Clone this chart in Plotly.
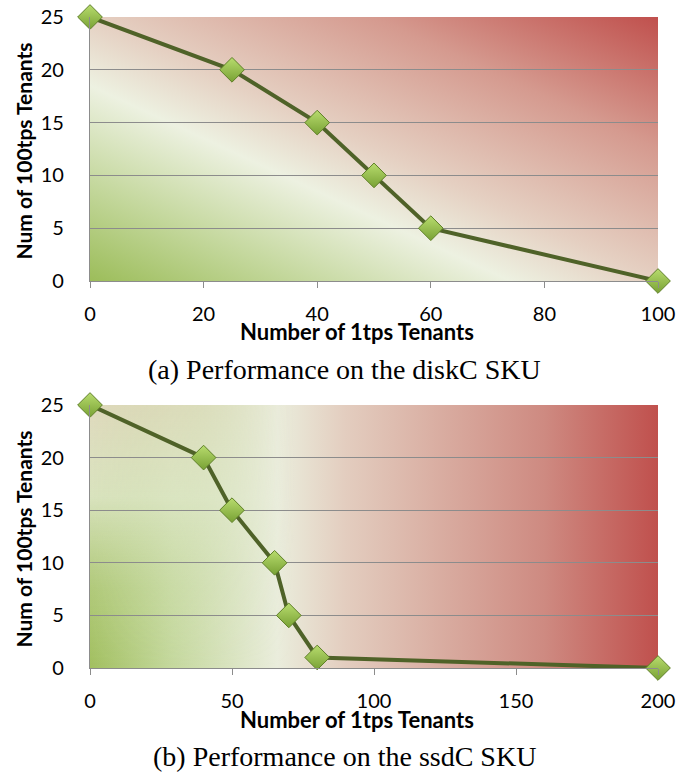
import base64
import plotly.graph_objects as go

# ---- data ----
disk_x = [0, 25, 40, 50, 60, 100]
disk_y = [25, 20, 15, 10, 5, 0]
ssd_x = [0, 40, 50, 65, 70, 80, 200]
ssd_y = [25, 20, 15, 10, 5, 1, 0]
disk_xticks = [0, 20, 40, 60, 80, 100]
ssd_xticks = [0, 50, 100, 150, 200]
yticks = [0, 5, 10, 15, 20, 25]
x_title = "Number of 1tps Tenants"
y_title = "Num of 100tps Tenants"
cap_a = "(a) Performance on the diskC SKU"
cap_b = "(b) Performance on the ssdC SKU"


def stops_svg(stops):
    out = ""
    for s in stops:
        if len(s) == 2:
            out += f'<stop offset="{s[0]}" stop-color="{s[1]}"/>'
        else:
            out += f'<stop offset="{s[0]}" stop-color="{s[1]}" stop-opacity="{s[2]}"/>'
    return out


def to_uri(svg):
    return "data:image/svg+xml;base64," + base64.b64encode(svg.encode()).decode()


svg_a = ('<svg xmlns="http://www.w3.org/2000/svg" width="600" height="300" viewBox="0 0 600 300" '
         'preserveAspectRatio="none"><defs>'
         '<linearGradient id="g" x1="0" y1="1" x2="1" y2="0">'
         + stops_svg([(0, "#9CBD5A"), (0.18, "#C3D79B"), (0.37, "#EDF1E1"), (0.5, "#E5D0C2"),
                      (0.75, "#D59A8F"), (1, "#C0504D")]) +
         '</linearGradient></defs><rect width="600" height="300" fill="url(#g)"/></svg>')

svg_b = ('<svg xmlns="http://www.w3.org/2000/svg" width="600" height="300" viewBox="0 0 600 300" '
         'preserveAspectRatio="none"><defs>'
         '<linearGradient id="h" x1="0" y1="0" x2="1" y2="0">'
         + stops_svg([(0, "#A2C060"), (0.14, "#C4D89C"), (0.33, "#EAEDDC"), (0.45, "#E3CDBF"),
                      (0.6, "#DAB0A4"), (0.8, "#CE8A81"), (1, "#C0504D")]) +
         '</linearGradient>'
         '<linearGradient id="v" x1="0" y1="0" x2="0" y2="1">'
         + stops_svg([(0, "#E6DCC8", 0.9), (0.35, "#EBEEDD", 0.75), (0.7, "#DDE6C8", 0.25),
                      (1, "#DDE6C8", 0)]) +
         '</linearGradient>'
         '<linearGradient id="m" x1="0" y1="0" x2="1" y2="0">'
         + stops_svg([(0, "#FFFFFF"), (0.15, "#BBBBBB"), (0.36, "#000000"), (1, "#000000")]) +
         '</linearGradient>'
         '<mask id="k"><rect width="600" height="300" fill="url(#m)"/></mask>'
         '</defs><rect width="600" height="300" fill="url(#h)"/>'
         '<rect width="600" height="300" fill="url(#v)" mask="url(#k)"/></svg>')

grad_a = to_uri(svg_a)
grad_b = to_uri(svg_b)

fig = go.Figure()
line_col = "#4F6228"
marker = dict(symbol="diamond", size=19, color="#B8DC6E",
              gradient=dict(type="vertical", color="#78A134"),
              line=dict(color="#5E7F27", width=1))

fig.add_trace(go.Scatter(x=disk_x, y=disk_y, mode="lines+markers", xaxis="x", yaxis="y",
                         line=dict(color=line_col, width=4), marker=marker, cliponaxis=False,
                         showlegend=False))
fig.add_trace(go.Scatter(x=ssd_x, y=ssd_y, mode="lines+markers", xaxis="x2", yaxis="y2",
                         line=dict(color=line_col, width=4), marker=marker, cliponaxis=False,
                         showlegend=False))

W, H = 678, 776
xd = [90 / W, 658 / W]
ya = [1 - 281 / H, 1 - 17 / H]
yb = [1 - 668 / H, 1 - 405 / H]

tickfont = dict(family="Lato, sans-serif", size=20, color="#000")
xcommon = dict(showgrid=False, zeroline=False, showline=True, linecolor="#8C8C8C", linewidth=1.3,
               ticks="outside", ticklen=6, tickcolor="#8C8C8C", tickwidth=1.3,
               tickfont=tickfont, ticklabelstandoff=9, domain=xd, automargin=False)
ycommon = dict(showgrid=True, gridcolor="#8C8C8C", gridwidth=1.3, zeroline=False, showline=True,
               linecolor="#8C8C8C", linewidth=1.3, ticks="", tickfont=tickfont,
               ticklabelstandoff=21, range=[0, 25], tickvals=yticks, automargin=False)

fig.update_layout(
    template="none",
    width=W, height=H, margin=dict(l=0, r=0, t=0, b=0, autoexpand=False),
    paper_bgcolor="white", plot_bgcolor="rgba(0,0,0,0)",
    xaxis=dict(range=[0, 100], tickvals=disk_xticks, anchor="y", **xcommon),
    yaxis=dict(domain=ya, anchor="x", **ycommon),
    xaxis2=dict(range=[0, 200], tickvals=ssd_xticks, anchor="y2", **xcommon),
    yaxis2=dict(domain=yb, anchor="x2", **ycommon),
    images=[
        dict(source=grad_a, xref="x domain", yref="y domain", x=0, y=1, sizex=1, sizey=1,
             xanchor="left", yanchor="top", sizing="stretch", layer="below"),
        dict(source=grad_b, xref="x2 domain", yref="y2 domain", x=0, y=1, sizex=1, sizey=1,
             xanchor="left", yanchor="top", sizing="stretch", layer="below"),
    ],
)

xtfont = dict(family="Lato, sans-serif", size=22, color="#000")
ytfont = dict(family="Lato, sans-serif", size=21, color="#000")
cfont = dict(family="Liberation Serif, Times New Roman, serif", size=28, color="#000")
ann = []
for ytit, ymid in [(331, (35 + 268) / 2), (719, (423 + 656) / 2)]:
    ann.append(dict(text=f"<b>{x_title}</b>", x=357 / W, y=1 - ytit / H, xref="paper", yref="paper",
                    showarrow=False, font=xtfont, xanchor="center", yanchor="middle"))
    ann.append(dict(text=f"<b>{y_title}</b>", x=23 / W, y=1 - ymid / H, xref="paper", yref="paper",
                    showarrow=False, font=ytfont, textangle=-90, xanchor="center", yanchor="middle"))
ann.append(dict(text=cap_a, x=344 / W, y=1 - 369 / H, xref="paper", yref="paper",
                showarrow=False, font=cfont, xanchor="center", yanchor="middle"))
ann.append(dict(text=cap_b, x=344 / W, y=1 - 756 / H, xref="paper", yref="paper",
                showarrow=False, font=cfont, xanchor="center", yanchor="middle"))
fig.update_layout(annotations=ann)

fig.write_html("out.html")
